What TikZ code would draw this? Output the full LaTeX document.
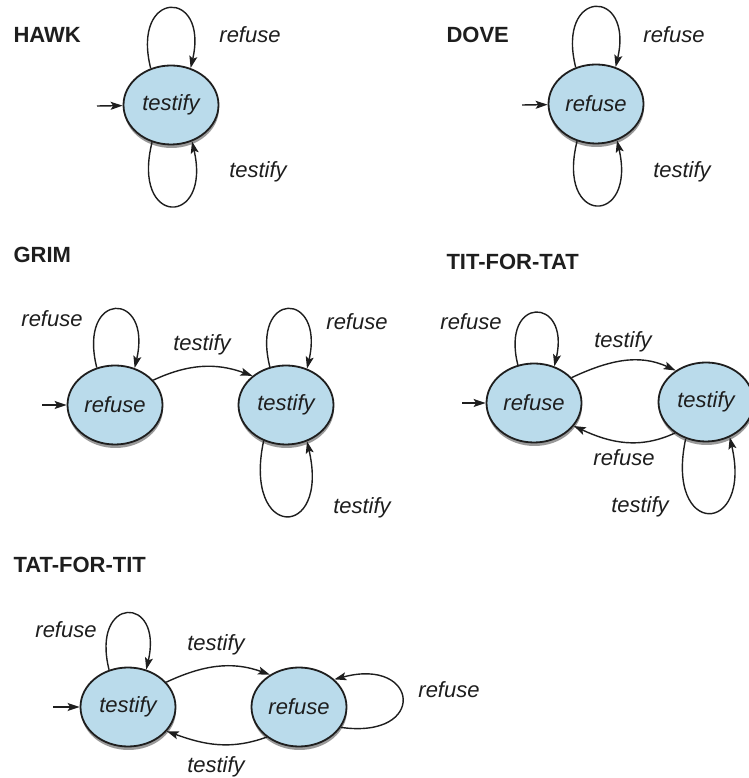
\documentclass[tikz,border=0pt]{standalone}
\usepackage{fontspec}
\setmainfont{Liberation Sans}
\usetikzlibrary{arrows.meta,shapes.geometric,shadows}
\definecolor{statefill}{RGB}{186,219,235}
\definecolor{inkgray}{RGB}{30,30,30}

\begin{document}
\begin{tikzpicture}[x=1pt, y=1pt,
  >={Stealth[length=12pt,width=8pt,inset=2.5pt]},
  font=\fontsize{22}{26}\selectfont, color=inkgray,
  st/.style={draw, ellipse, line width=1.8pt, fill=statefill,
             minimum width=95pt, minimum height=79pt, inner sep=0pt,
             font=\fontsize{22}{26}\selectfont\itshape,
             drop shadow={shadow xshift=0.5pt, shadow yshift=-3.5pt,
                          opacity=0.4, fill=black}},
  lbl/.style={font=\fontsize{22}{26}\selectfont\itshape},
  ttl/.style={anchor=west, font=\fontsize{22}{26}\selectfont\bfseries},
  arr/.style={->, line width=1.4pt},
]
  \useasboundingbox (0,0) rectangle (748,778);

  % HAWK
  \node[ttl] (hawk) at (10,743) {HAWK};
  \node[st] (h) at (171,673) {testify};
  \coordinate (hin) at (97,672);
  \draw[arr] (hin) -- (h);
  \draw[arr] (h.119) .. controls +(104:82) and +(77:82) .. (h.62);
  \draw[arr] (h.243) .. controls +(256:88) and +(283:88) .. (h.300);
  \node[lbl] (hr) at (250,743) {refuse};
  \node[lbl] (ht) at (258,606) {testify};

  % DOVE
  \node[ttl] (dove) at (443,743) {DOVE};
  \node[st] (d) at (596,674) {refuse};
  \coordinate (din) at (522,673);
  \draw[arr] (din) -- (d);
  \draw[arr] (d.119) .. controls +(104:82) and +(77:82) .. (d.62);
  \draw[arr] (d.243) .. controls +(256:88) and +(283:88) .. (d.300);
  \node[lbl] (dr) at (674,743) {refuse};
  \node[lbl] (dt) at (682,606) {testify};

  % GRIM
  \node[ttl] (grim) at (10,523) {GRIM};
  \node[st] (g1) at (115,373) {refuse};
  \node[st] (g2) at (286,373) {testify};
  \coordinate (gin) at (42,373);
  \draw[arr] (gin) -- (g1);
  \draw[arr] (g1.116) .. controls +(104:80) and +(77:80) .. (g1.62);
  \draw[arr] (g2.113) .. controls +(104:80) and +(77:80) .. (g2.60);
  \draw[arr] (g2.238) .. controls +(258:102) and +(283:102) .. (g2.300);
  \draw[arr] (g1.33) to[out=25, in=160] (g2.139);
  \node[lbl] (gr1) at (52,459) {refuse};
  \node[lbl] (gt1) at (202,433) {testify};
  \node[lbl] (gr2) at (357,456) {refuse};
  \node[lbl] (gt2) at (362,270) {testify};

  % TIT-FOR-TAT
  \node[ttl] (tft) at (443,516) {TIT-FOR-TAT};
  \node[st] (t1) at (534,375) {refuse};
  \node[st] (t2) at (706,376) {testify};
  \coordinate (tin) at (462,375);
  \draw[arr] (tin) -- (t1);
  \draw[arr] (t1.113) .. controls +(104:72) and +(77:72) .. (t1.61);
  \draw[arr] (t2.241) .. controls +(258:102) and +(283:102) .. (t2.304);
  \draw[arr] (t1.34) to[out=25, in=155] (t2.134);
  \draw[arr] (t2.225) to[out=205, in=-25] (t1.330);
  \node[lbl] (tr1) at (471,456) {refuse};
  \node[lbl] (tt1) at (623,436) {testify};
  \node[lbl] (tr2) at (624,320) {refuse};
  \node[lbl] (tt2) at (640,271) {testify};

  % TAT-FOR-TIT
  \node[ttl] (tat) at (10,213) {TAT-FOR-TIT};
  \node[st] (a1) at (128,71) {testify};
  \node[st] (a2) at (299,71) {refuse};
  \coordinate (ain) at (53,71);
  \draw[arr] (ain) -- (a1);
  \draw[arr] (a1.117) .. controls +(104:77) and +(77:77) .. (a1.64);
  \draw[arr] (a2.334) .. controls +(-8:88) and +(15:88) .. (a2.38);
  \draw[arr] (a1.33) to[out=25, in=160] (a2.132);
  \draw[arr] (a2.223) to[out=200, in=-20] (a1.328);
  \node[lbl] (ar1) at (66,148) {refuse};
  \node[lbl] (at1) at (216,133) {testify};
  \node[lbl] (at2) at (216,11) {testify};
  \node[lbl] (ar2) at (449,88) {refuse};
\end{tikzpicture}
\end{document}
